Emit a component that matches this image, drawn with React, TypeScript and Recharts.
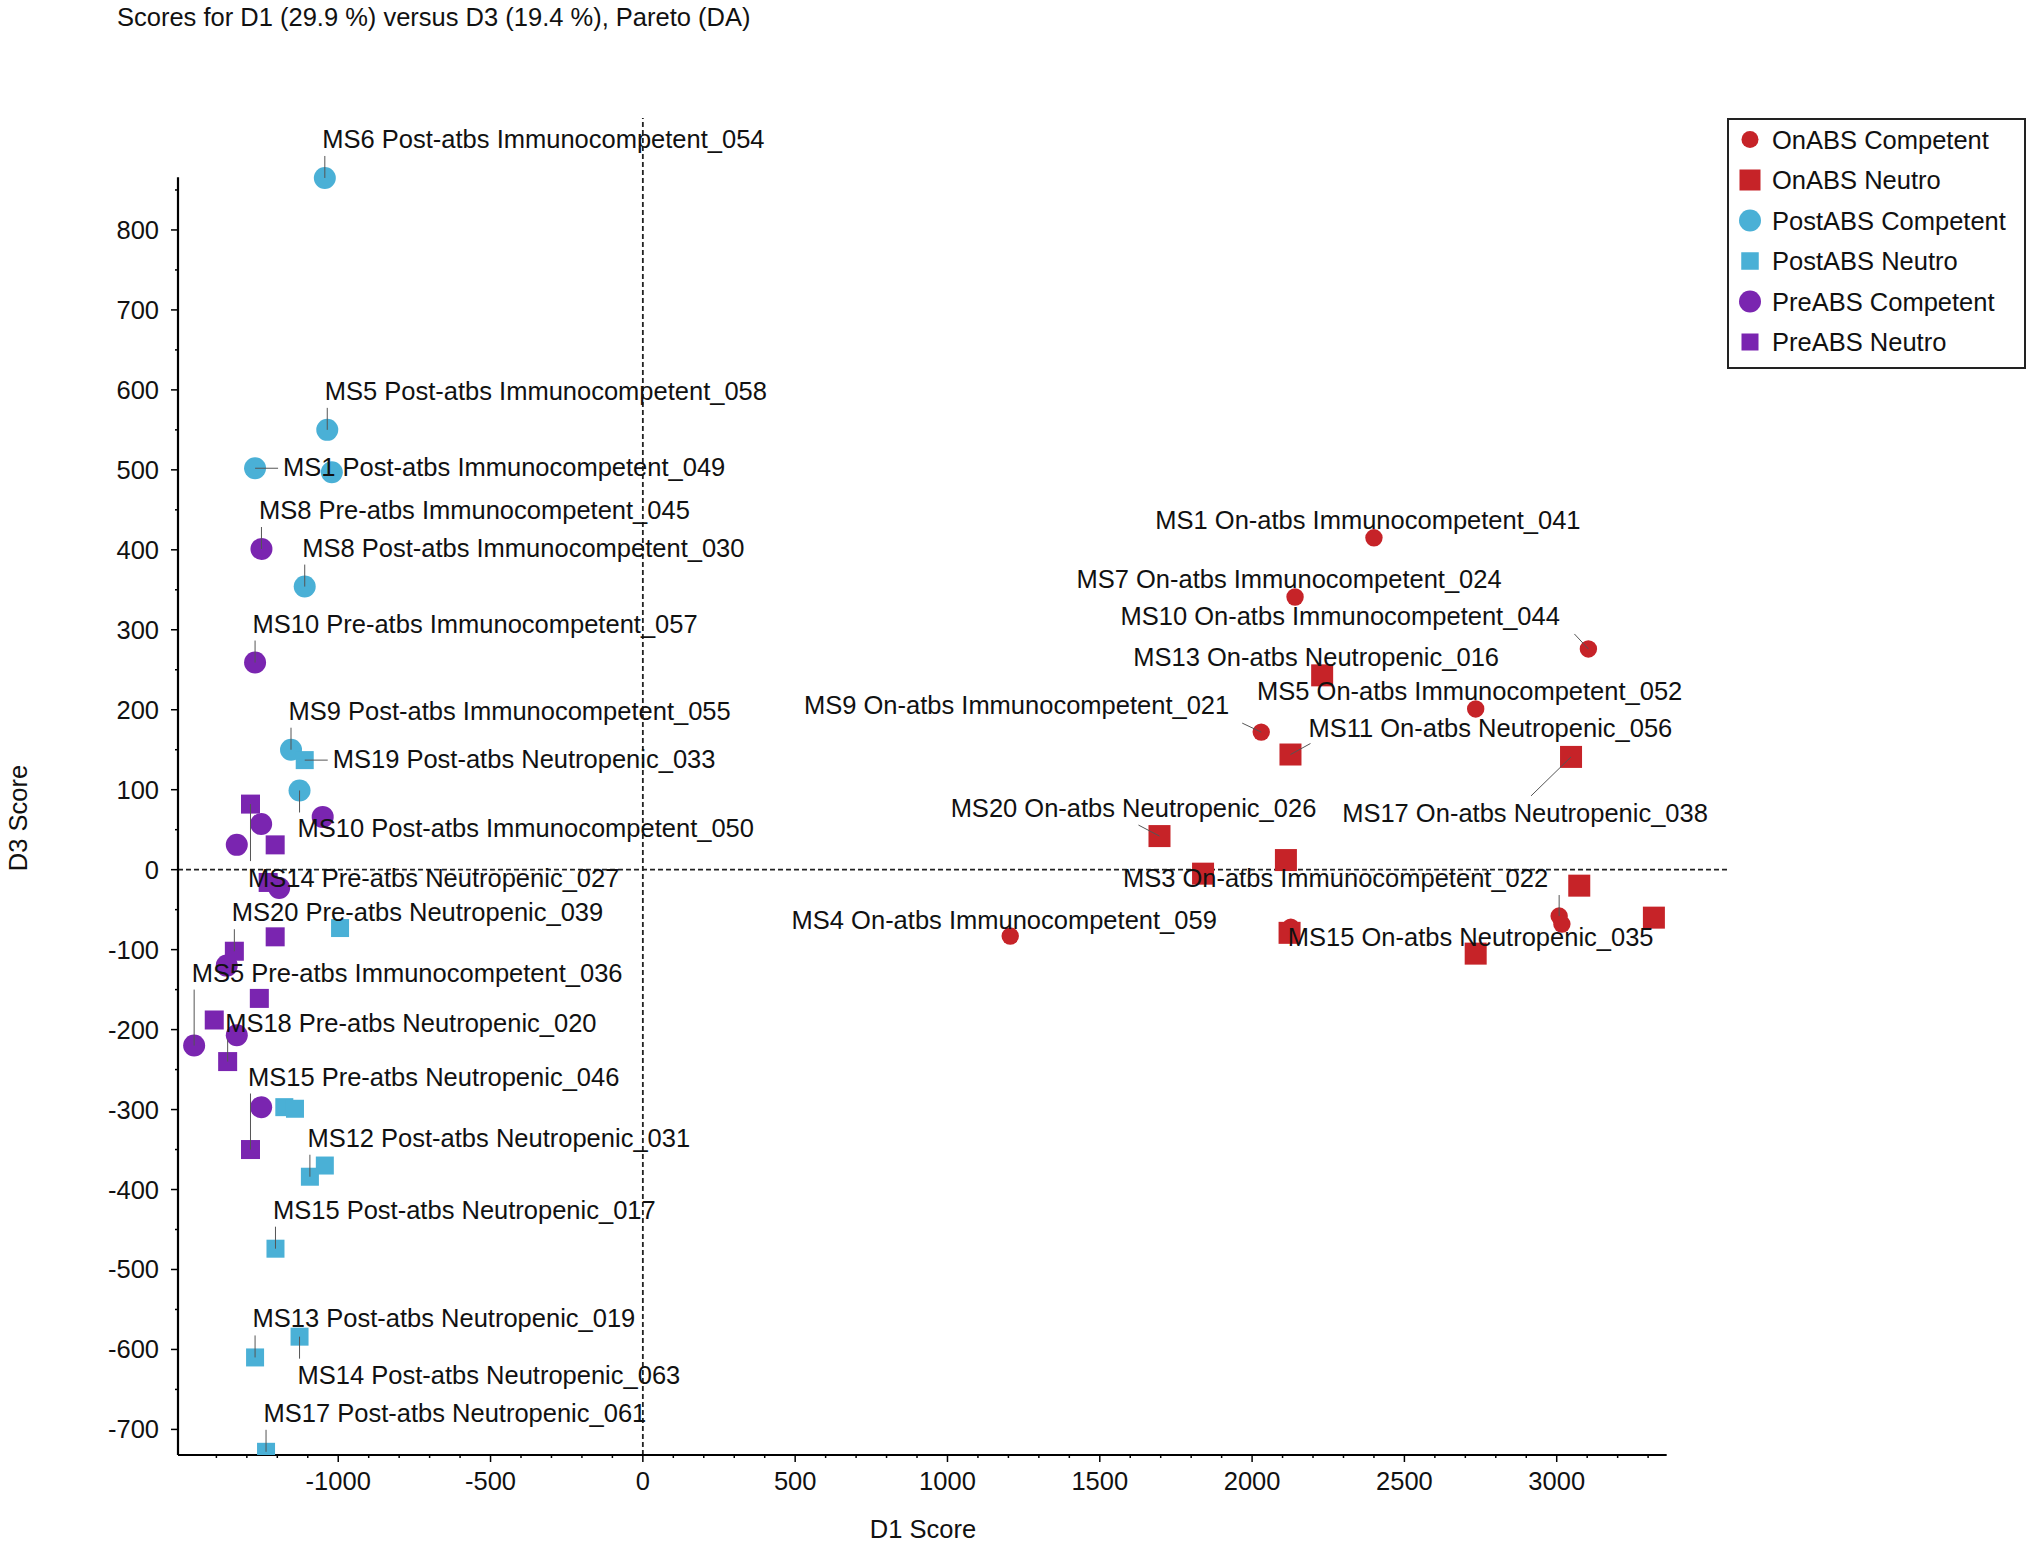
import React from 'react';
import { ScatterChart, Scatter, XAxis, YAxis, ReferenceLine } from 'recharts';

type Pt = { x: number; y: number; label?: string };

// D1 / D3 scores per group
const onCompetent: Pt[] = [
  { x: 2400, y: 415, label: 'MS1 On-atbs Immunocompetent_041' },
  { x: 2141, y: 341, label: 'MS7 On-atbs Immunocompetent_024' },
  { x: 3104, y: 276, label: 'MS10 On-atbs Immunocompetent_044' },
  { x: 2734, y: 201, label: 'MS5 On-atbs Immunocompetent_052' },
  { x: 2030, y: 172, label: 'MS9 On-atbs Immunocompetent_021' },
  { x: 1206, y: -83, label: 'MS4 On-atbs Immunocompetent_059' },
  { x: 2127, y: -72 },
  { x: 3008, y: -58, label: 'MS3 On-atbs Immunocompetent_022' },
  { x: 3017, y: -68 },
];

const onNeutro: Pt[] = [
  { x: 2230, y: 243, label: 'MS13 On-atbs Neutropenic_016' },
  { x: 2126, y: 144, label: 'MS11 On-atbs Neutropenic_056' },
  { x: 3047, y: 141, label: 'MS17 On-atbs Neutropenic_038' },
  { x: 1696, y: 42, label: 'MS20 On-atbs Neutropenic_026' },
  { x: 1839, y: -5 },
  { x: 2111, y: 12 },
  { x: 3074, y: -20 },
  { x: 3319, y: -60 },
  { x: 2123, y: -79 },
  { x: 2734, y: -105, label: 'MS15 On-atbs Neutropenic_035' },
];

const postCompetent: Pt[] = [
  { x: -1044, y: 865, label: 'MS6 Post-atbs Immunocompetent_054' },
  { x: -1036, y: 550, label: 'MS5 Post-atbs Immunocompetent_058' },
  { x: -1273, y: 502, label: 'MS1 Post-atbs Immunocompetent_049' },
  { x: -1021, y: 497 },
  { x: -1110, y: 354, label: 'MS8 Post-atbs Immunocompetent_030' },
  { x: -1155, y: 150, label: 'MS9 Post-atbs Immunocompetent_055' },
  { x: -1127, y: 99, label: 'MS10 Post-atbs Immunocompetent_050' },
];

const postNeutro: Pt[] = [
  { x: -1110, y: 137, label: 'MS19 Post-atbs Neutropenic_033' },
  { x: -994, y: -73 },
  { x: -1177, y: -297 },
  { x: -1142, y: -299 },
  { x: -1044, y: -370 },
  { x: -1093, y: -384, label: 'MS12 Post-atbs Neutropenic_031' },
  { x: -1206, y: -474, label: 'MS15 Post-atbs Neutropenic_017' },
  { x: -1127, y: -584, label: 'MS14 Post-atbs Neutropenic_063' },
  { x: -1273, y: -610, label: 'MS13 Post-atbs Neutropenic_019' },
  { x: -1237, y: -728, label: 'MS17 Post-atbs Neutropenic_061' },
];

const preCompetent: Pt[] = [
  { x: -1252, y: 401, label: 'MS8 Pre-atbs Immunocompetent_045' },
  { x: -1273, y: 259, label: 'MS10 Pre-atbs Immunocompetent_057' },
  { x: -1051, y: 66 },
  { x: -1253, y: 57 },
  { x: -1333, y: 31 },
  { x: -1194, y: -23 },
  { x: -1366, y: -120 },
  { x: -1473, y: -220, label: 'MS5 Pre-atbs Immunocompetent_036' },
  { x: -1333, y: -207 },
  { x: -1253, y: -297 },
];

const preNeutro: Pt[] = [
  { x: -1288, y: 82, label: 'MS14 Pre-atbs Neutropenic_027' },
  { x: -1207, y: 31 },
  { x: -1230, y: -16 },
  { x: -1207, y: -84 },
  { x: -1341, y: -102, label: 'MS20 Pre-atbs Neutropenic_039' },
  { x: -1259, y: -161 },
  { x: -1407, y: -188 },
  { x: -1363, y: -240, label: 'MS18 Pre-atbs Neutropenic_020' },
  { x: -1288, y: -350, label: 'MS15 Pre-atbs Neutropenic_046' },
];

const xMajorTicks = [-1000, -500, 0, 500, 1000, 1500, 2000, 2500, 3000];
const yMajorTicks = [-700, -600, -500, -400, -300, -200, -100, 0, 100, 200, 300, 400, 500, 600, 700, 800];

const TITLE = 'Scores for D1 (29.9 %) versus D3 (19.4 %), Pareto (DA)';
const X_TITLE = 'D1 Score';
const Y_TITLE = 'D3 Score';

// axis extents (data units)
const X_MIN = -1526;
const X_AXIS_END = 3361;
const X_PLOT_END = 3559;
const Y_MIN = -732;
const Y_AXIS_END = 866;
const Y_PLOT_END = 940;

const xMinorTicks = Array.from({ length: 49 }, (_, i) => -1500 + i * 100).filter((v) => v % 500 !== 0);
const yMinorTicks = Array.from({ length: 16 }, (_, i) => -650 + i * 100);

const FONT = '"Liberation Sans", Arial, Helvetica, sans-serif';
const FS = 25.5;
const RED = '#C62328';
const CYAN = '#4AB0D6';
const PURPLE = '#7A25B0';

type Layout = [anchor: 'start' | 'middle' | 'end', dx: number, dy: number, lx?: number, ly?: number];
const ABOVE: Layout = ['start', -2.5, -39, 0, -22];
const ABOVE_FAR: Layout = ['start', -2.5, -73, 0, -56];
const BELOW: Layout = ['start', -2, 38, 0, 22];
const BELOW_FAR: Layout = ['start', -2.5, 73.5, 0, 57];
const RIGHT: Layout = ['start', 28, -1, 23, 0];
const TOP_MID: Layout = ['middle', -6, -18];

const labelLayout: Record<string, Layout> = {
  'MS6 Post-atbs Immunocompetent_054': ABOVE,
  'MS5 Post-atbs Immunocompetent_058': ABOVE,
  'MS1 Post-atbs Immunocompetent_049': RIGHT,
  'MS8 Pre-atbs Immunocompetent_045': ABOVE,
  'MS8 Post-atbs Immunocompetent_030': ABOVE,
  'MS10 Pre-atbs Immunocompetent_057': ABOVE,
  'MS9 Post-atbs Immunocompetent_055': ABOVE,
  'MS19 Post-atbs Neutropenic_033': RIGHT,
  'MS10 Post-atbs Immunocompetent_050': BELOW,
  'MS14 Pre-atbs Neutropenic_027': BELOW_FAR,
  'MS20 Pre-atbs Neutropenic_039': ABOVE,
  'MS5 Pre-atbs Immunocompetent_036': ABOVE_FAR,
  'MS18 Pre-atbs Neutropenic_020': ABOVE,
  'MS15 Pre-atbs Neutropenic_046': ABOVE_FAR,
  'MS12 Post-atbs Neutropenic_031': ABOVE,
  'MS15 Post-atbs Neutropenic_017': ABOVE,
  'MS13 Post-atbs Neutropenic_019': ABOVE,
  'MS14 Post-atbs Neutropenic_063': BELOW,
  'MS17 Post-atbs Neutropenic_061': ABOVE,
  'MS1 On-atbs Immunocompetent_041': TOP_MID,
  'MS7 On-atbs Immunocompetent_024': TOP_MID,
  'MS10 On-atbs Immunocompetent_044': ['end', -28.5, -33, -14, -15],
  'MS13 On-atbs Neutropenic_016': TOP_MID,
  'MS5 On-atbs Immunocompetent_052': TOP_MID,
  'MS9 On-atbs Immunocompetent_021': ['end', -32, -27, -19, -9],
  'MS11 On-atbs Neutropenic_056': ['start', 18, -27, 20, -11],
  'MS17 On-atbs Neutropenic_038': ['middle', -46, 55.6, -40, 39],
  'MS20 On-atbs Neutropenic_026': ['middle', -26, -28.5, -21, -11],
  'MS3 On-atbs Immunocompetent_022': ['end', -11, -38, 0, -21],
  'MS4 On-atbs Immunocompetent_059': ['middle', -6, -16],
  'MS15 On-atbs Neutropenic_035': ['middle', -5, -16.5],
};

const series = [
  { name: 'OnABS Competent', data: onCompetent, color: RED, kind: 'circle', size: 8.7, legendSize: 8.5 },
  { name: 'OnABS Neutro', data: onNeutro, color: RED, kind: 'square', size: 22, legendSize: 21 },
  { name: 'PostABS Competent', data: postCompetent, color: CYAN, kind: 'circle', size: 11, legendSize: 11 },
  { name: 'PostABS Neutro', data: postNeutro, color: CYAN, kind: 'square', size: 18, legendSize: 17.5 },
  { name: 'PreABS Competent', data: preCompetent, color: PURPLE, kind: 'circle', size: 11, legendSize: 11 },
  { name: 'PreABS Neutro', data: preNeutro, color: PURPLE, kind: 'square', size: 19, legendSize: 17 },
];

const labelled = series.flatMap((s) => s.data.filter((d) => d.label));

function marker(kind: string, color: string, size: number, cx: number, cy: number) {
  return kind === 'circle' ? (
    <circle cx={cx} cy={cy} r={size} fill={color} />
  ) : (
    <rect x={cx - size / 2} y={cy - size / 2} width={size} height={size} fill={color} />
  );
}

const makeShape = (kind: string, color: string, size: number) => (p: any) => marker(kind, color, size, p.cx, p.cy);

const LabelShape = (p: any) => {
  const text: string = p.payload?.label;
  const lay = labelLayout[text];
  if (!text || !lay) return <g />;
  const [anchor, dx, dy, lx, ly] = lay;
  return (
    <g>
      {lx !== undefined && ly !== undefined && (
        <line x1={p.cx} y1={p.cy} x2={p.cx + lx} y2={p.cy + ly} stroke="#555" strokeWidth={1} />
      )}
      <text
        x={p.cx + dx}
        y={p.cy + dy}
        textAnchor={anchor}
        dominantBaseline="central"
        fontFamily={FONT}
        fontSize={FS}
        fill="#111"
      >
        {text}
      </text>
    </g>
  );
};

const XTick = (p: any) => {
  const v = p.payload.value;
  const major = xMajorTicks.includes(v);
  return (
    <g>
      <line x1={p.x} y1={p.y} x2={p.x} y2={p.y + (major ? 7 : 3)} stroke="#000" strokeWidth={1.5} />
      {major && (
        <text x={p.x} y={p.y + 26} textAnchor="middle" dominantBaseline="central" fontFamily={FONT} fontSize={FS} fill="#111">
          {v}
        </text>
      )}
    </g>
  );
};

const YTick = (p: any) => {
  const v = p.payload.value;
  const major = yMajorTicks.includes(v);
  return (
    <g>
      <line x1={p.x - (major ? 7 : 3)} y1={p.y} x2={p.x} y2={p.y} stroke="#000" strokeWidth={1.5} />
      {major && (
        <text x={p.x - 19} y={p.y} textAnchor="end" dominantBaseline="central" fontFamily={FONT} fontSize={FS} fill="#111">
          {v}
        </text>
      )}
    </g>
  );
};

export default function App() {
  const xTicks = [...xMajorTicks, ...xMinorTicks].sort((a, b) => a - b);
  const yTicks = [...yMajorTicks, ...yMinorTicks].sort((a, b) => a - b);
  return (
    <div style={{ position: 'absolute', left: 0, top: 0, width: 2032, height: 1544, background: '#fff' }}>
      <ScatterChart width={2032} height={1544} margin={{ top: 118, right: 305, bottom: 29, left: 78 }}>
        <XAxis
          type="number"
          dataKey="x"
          domain={[X_MIN, X_PLOT_END]}
          allowDataOverflow
          ticks={xTicks}
          interval={0}
          tick={XTick}
          tickLine={false}
          axisLine={false}
          tickSize={0}
          tickMargin={0}
          height={60}
        />
        <YAxis
          type="number"
          dataKey="y"
          domain={[Y_MIN, Y_PLOT_END]}
          allowDataOverflow
          ticks={yTicks}
          interval={0}
          tick={YTick}
          tickLine={false}
          axisLine={false}
          tickSize={0}
          tickMargin={0}
          width={100}
        />
        <ReferenceLine x={0} stroke="#222" strokeWidth={1.8} strokeDasharray="5 3" />
        <ReferenceLine y={0} stroke="#222" strokeWidth={1.8} strokeDasharray="5 3" />
        <ReferenceLine segment={[{ x: X_MIN, y: Y_MIN }, { x: X_AXIS_END, y: Y_MIN }]} stroke="#000" strokeWidth={2.2} ifOverflow="visible" />
        <ReferenceLine segment={[{ x: X_MIN, y: Y_MIN }, { x: X_MIN, y: Y_AXIS_END }]} stroke="#000" strokeWidth={2.2} ifOverflow="visible" />
        {series.map((s) => (
          <Scatter
            key={s.name}
            name={s.name}
            data={s.data}
            fill={s.color}
            shape={makeShape(s.kind, s.color, s.size)}
            isAnimationActive={false}
          />
        ))}
        <Scatter name="labels" data={labelled} shape={LabelShape} isAnimationActive={false} legendType="none" />
      </ScatterChart>
      <svg width={2032} height={1544} style={{ position: 'absolute', left: 0, top: 0, pointerEvents: 'none' }}>
        <text x={117} y={17} dominantBaseline="central" fontFamily={FONT} fontSize={FS} fill="#111">
          {TITLE}
        </text>
        <text x={923} y={1529} textAnchor="middle" dominantBaseline="central" fontFamily={FONT} fontSize={FS} fill="#111">
          {X_TITLE}
        </text>
        <text
          x={18}
          y={818}
          textAnchor="middle"
          dominantBaseline="central"
          fontFamily={FONT}
          fontSize={FS}
          fill="#111"
          transform="rotate(-90 18 818)"
        >
          {Y_TITLE}
        </text>
        <rect x={1728} y={119} width={297} height={249} fill="#fff" stroke="#222" strokeWidth={2} />
        {series.map((s, i) => {
          const cy = 139.5 + i * 40.5;
          return (
            <g key={s.name}>
              {marker(s.kind, s.color, s.legendSize, 1750, cy)}
              <text x={1772} y={cy} dominantBaseline="central" fontFamily={FONT} fontSize={FS} fill="#111">
                {s.name}
              </text>
            </g>
          );
        })}
      </svg>
    </div>
  );
}
